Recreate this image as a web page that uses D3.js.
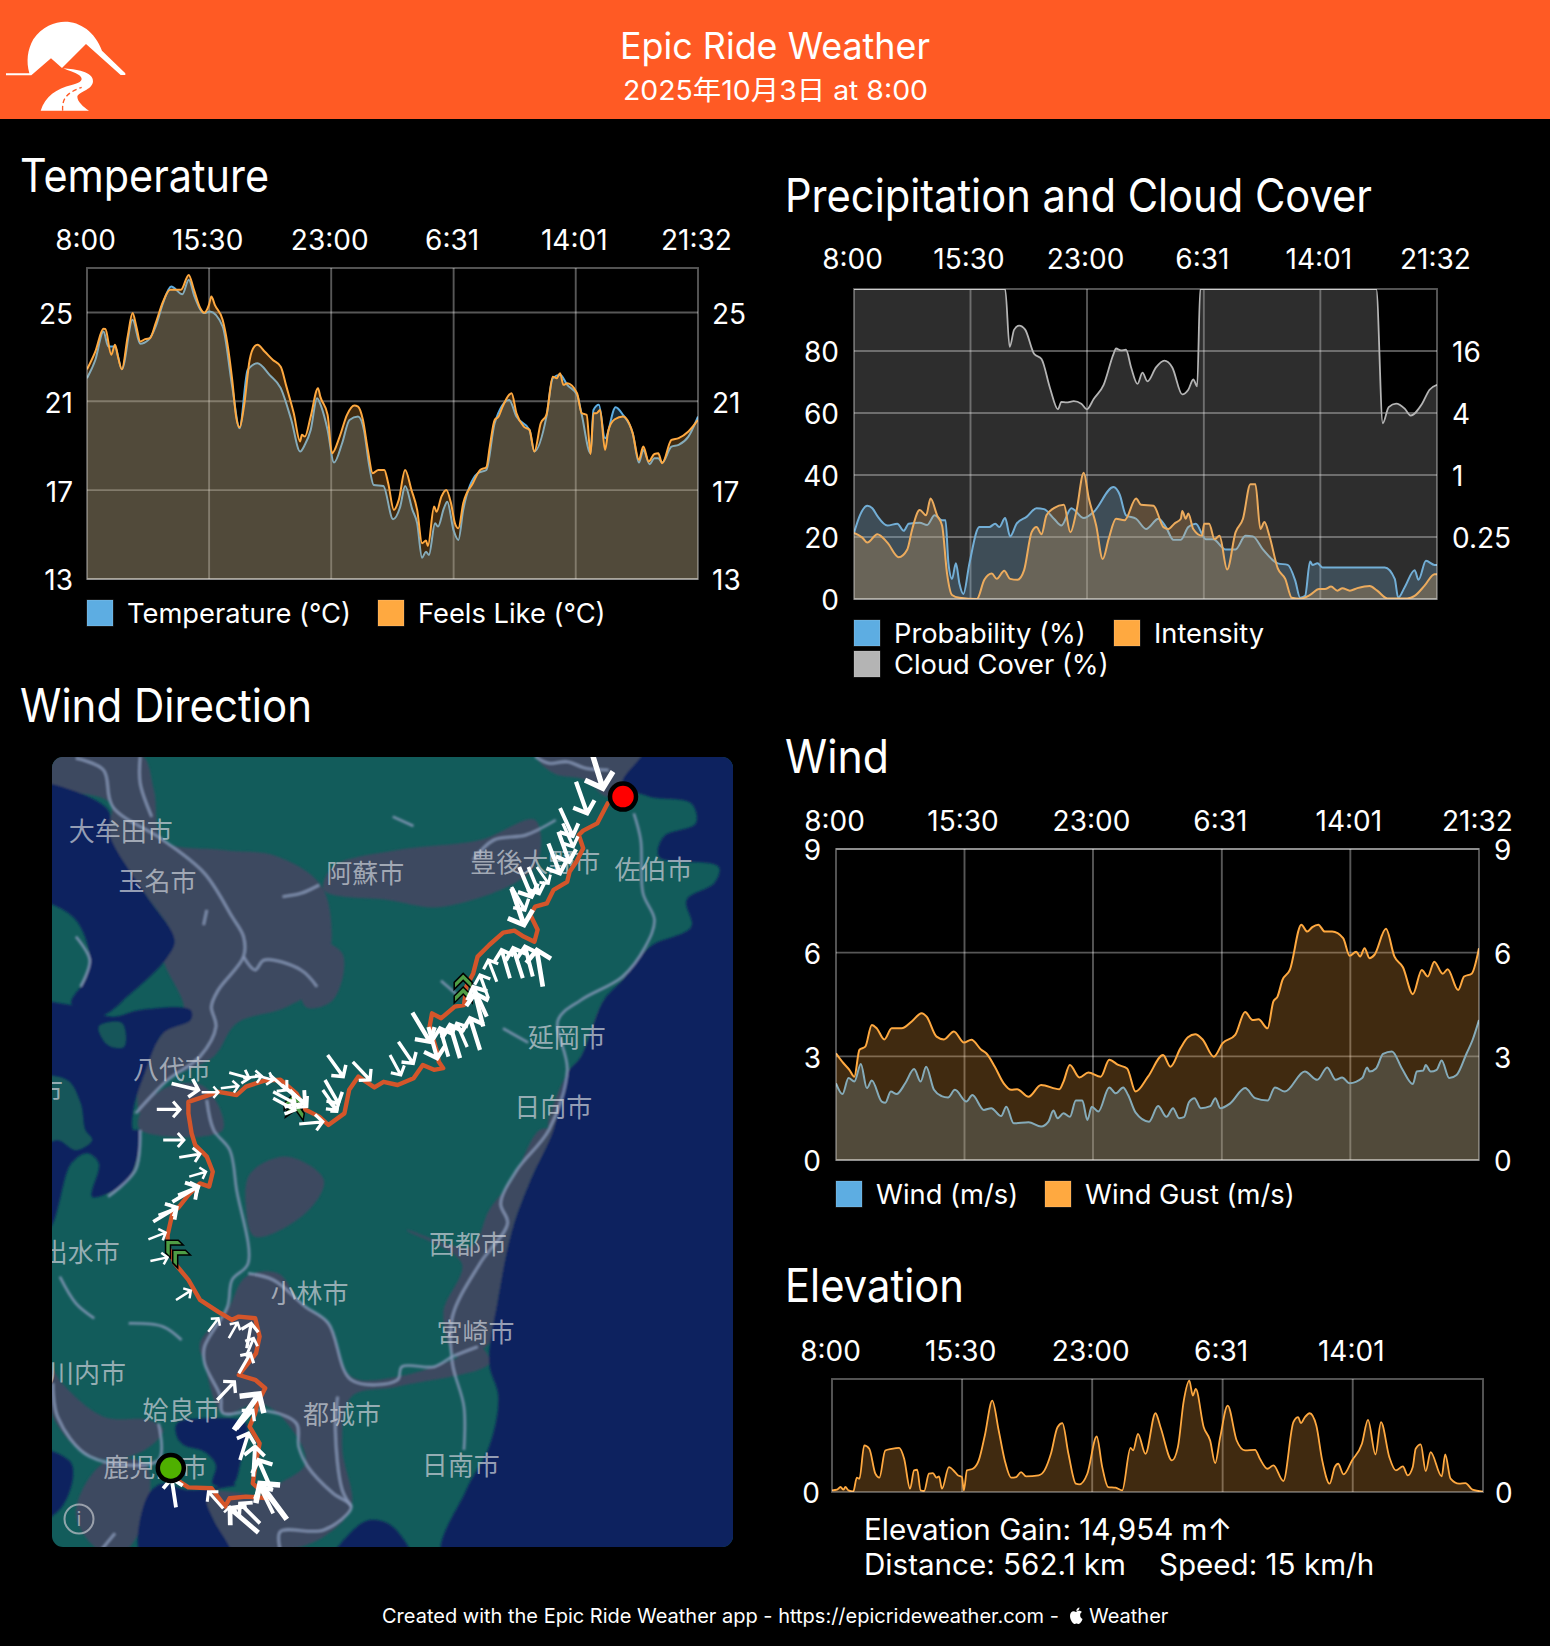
<!DOCTYPE html>
<html><head><meta charset="utf-8"><title>Epic Ride Weather</title>
<script src="https://cdn.jsdelivr.net/npm/d3@7/dist/d3.min.js"></script>
<style>
html,body{margin:0;padding:0;background:#000}
svg{display:block}
text{font-family:Inter,"Noto Sans CJK JP",sans-serif;fill:#fff}
.grid{stroke:#fff;stroke-opacity:.34;stroke-width:1.9;fill:none}
.axis path{display:none}.axis line{display:none}
.axis text{font-size:28px}
.legend{font-size:27.3px}
.place{font-family:"Noto Sans CJK JP",sans-serif;font-size:26px;fill:#c9ced6;fill-opacity:.72;text-anchor:middle;dominant-baseline:central}
</style></head><body><svg id="page" width="1550" height="1646"></svg>
<script>
// Shared time axis: hours since the 8:00 departure
const tickHours=[0,7.5,15,22.52,30.02,37.53];
const tickLabels=["8:00","15:30","23:00","6:31","14:01","21:32"];

// Temperature (°C)
const tempHours=[0,.51,1.01,1.31,1.72,2.14,2.8,3.27,3.78,4.22,4.67,5.17,5.86,6.25,6.6,7.2,7.55,8.33,8.92,9.37,9.87,10.47,11.21,11.9,12.55,13.09,13.38,13.74,14.13,14.39,14.78,15.17,15.67,16.12,16.65,17.01,17.31,17.61,18.2,18.8,19.24,19.54,19.99,20.28,20.58,20.82,21,21.38,21.56,21.92,22.13,22.51,22.81,23.11,24,24.53,25.04,25.93,26.38,27.18,27.48,28.22,28.61,29.06,29.5,30.1,30.39,30.93,31.11,31.44,31.82,32.47,32.92,33.52,33.9,34.17,34.56,34.85,35.09,35.33,35.9,36.34,36.94,37.53];
const tempValues=[22.04,22.86,24.14,23.47,23.47,22.44,24.67,23.59,23.77,24.37,25.42,26.17,25.82,26.47,25.72,24.97,25.04,24.37,21.66,19.79,22.41,22.71,22.19,21.59,20.16,18.74,19.04,19.71,21.14,20.76,19.71,18.24,19.11,20.16,20.31,19.71,18.21,17.23,17.19,15.69,16.26,17.19,16.11,15.51,13.96,14.23,14.08,15.51,15.36,16.18,16.48,15.21,14.76,16.11,17.76,17.91,20.01,21.06,20.31,19.71,18.74,20.31,22.04,22.19,21.74,21.29,20.39,18.66,20.61,20.84,19.34,20.73,20.39,19.56,18.24,18.81,18.17,18.44,18.44,18.24,18.96,19.04,19.41,20.31];

// Feels-like temperature (°C)
const feelsHours=[0,.51,1.01,1.13,1.49,1.72,1.9,2.14,2.5,2.8,3.03,3.27,3.57,3.87,4.22,4.67,5.11,5.77,6.25,6.54,6.96,7.2,7.49,7.64,7.85,8.33,8.62,8.92,9.16,9.37,9.64,9.99,10.29,10.47,10.91,11.42,11.9,12.25,12.7,13.09,13.2,13.38,13.74,14.19,14.33,14.78,15.05,15.52,15.97,16.42,16.65,16.95,17.25,17.55,17.9,18.26,18.5,18.85,19.15,19.54,19.93,20.28,20.58,20.82,20.94,21.32,21.47,21.77,22.07,22.36,22.6,22.81,23.11,23.7,24.15,24.53,24.74,25.04,25.28,25.49,25.93,26.08,26.38,26.83,27.18,27.48,27.87,28.22,28.61,28.85,29.06,29.26,29.5,30.1,30.39,30.69,30.93,31.11,31.29,31.52,31.82,32.03,32.42,32.92,33.52,33.9,34.17,34.5,34.85,35.09,35.33,35.9,36.34,36.94,37.53];
const feelsValues=[22.44,23.24,24.26,24.25,23.09,23.54,23.02,22.44,23.92,24.97,24.37,23.69,23.8,23.84,24.52,25.49,26.02,26.02,26.69,26.09,25.19,24.99,25.34,25.72,25.34,24.67,23.62,21.96,20.31,19.83,20.76,22.86,23.47,23.54,23.24,22.86,22.56,21.66,20.46,19.19,19.49,19.41,20.31,21.59,21.21,20.39,18.66,19.41,20.39,20.81,20.76,20.16,18.81,17.76,17.91,17.91,17.31,16.11,16.56,17.91,17.01,16.11,14.61,14.73,14.49,16.26,16.03,16.71,17.01,16.41,15.51,15.28,16.41,17.31,17.91,18.03,18.96,20.16,20.31,20.69,21.29,21.36,20.46,19.86,19.71,18.74,20.01,20.39,22.11,22.04,22.26,21.74,21.81,21.36,20.46,20.39,18.63,20.46,20.46,20.61,18.81,19.71,20.19,20.31,19.56,18.36,18.96,18.29,18.63,18.66,18.21,19.26,19.34,19.64,20.16];

// Precipitation probability (%)
const probHours=[0,.38,.86,1.18,1.5,2.15,2.79,3.2,3.52,4.23,4.71,5.19,5.67,5.89,6.08,6.31,6.56,6.79,7.04,7.43,8.07,8.71,9.09,9.35,9.73,10.05,10.47,11.11,11.75,12.23,12.87,13.35,13.99,14.79,15.43,16.71,17.1,17.51,18.16,18.8,19.6,20.08,20.56,21.04,21.52,22,22.64,23.12,23.92,24.56,25.2,25.68,26.32,27.28,27.92,28.4,28.72,29.04,29.36,29.52,29.84,30.16,34.17,34.81,35.03,35.45,36.09,36.34,36.82,37.37,37.53];
const probValues=[21.3,27,30.1,29.3,26.8,23.7,24.3,22,24.3,24.6,23.9,27,25.4,25.4,11.5,6.5,11.5,4.9,1.6,11.5,23.2,23.2,24.3,23.2,26.1,20.2,24.3,26.5,29.3,29,25.9,23.7,29.3,26.1,28.1,36.1,33.7,27,25.9,22.6,25.9,23.2,19.1,19.1,23.2,24.3,19.3,19.3,16,16,20.4,20.2,16,11.5,11,6,.4,1,12.1,11,11.5,10.2,10.2,6.5,.4,3.8,9.3,6.2,12.3,11,11];

// Precipitation intensity, held in axis position units (0.25 sits at 20, 1 at 40, 4 at 60, 16 at 80)
const intensityHours=[0,.54,.86,1.5,2.15,2.88,3.43,3.75,4.23,4.64,4.93,5.35,5.67,5.99,6.31,6.79,7.91,8.39,8.87,9.19,9.67,10.05,10.53,10.95,11.43,11.75,12.07,12.39,12.87,13.51,13.93,14.31,14.79,15.11,15.59,16.01,16.39,16.87,17.42,18.16,18.48,19.28,19.92,20.24,20.62,21.04,21.13,21.36,21.52,21.84,22.41,22.54,22.86,23.21,23.53,24.02,24.56,25.04,25.52,25.84,26.16,26.42,26.74,27.28,27.76,28.18,28.72,29.36,29.94,30.32,30.71,31.12,31.44,31.92,32.4,33.2,33.68,34.33,35.61,36.09,36.73,37.37,37.53];
const intensityValues=[21.3,19.8,18.2,20.9,18.2,13.5,16,22.6,28.7,27,32.4,27,23.7,8.2,1.3,.4,0,6.2,8.2,6.5,9.1,6.5,6.2,9.3,21.5,23.2,20.9,27,29.3,30.4,21.5,28.1,40.7,32.6,23.7,12.9,19.3,25.9,25.4,32.4,30.4,30.1,23.2,22.6,24.3,25.9,28.4,25.9,27.6,22.6,20.4,24.3,24.3,19.3,20.4,9.5,21.5,25.9,37,37,22.6,24.8,20.4,9.9,6.5,.4,.1,1.3,3.2,3.2,4,2.7,3.5,2.7,3.5,4.2,2.7,.2,.2,1,4.3,8,8];
const intensityTicks=new Map([[20,"0.25"],[40,"1"],[60,"4"],[80,"16"]]);

// Cloud cover (%)
const cloudHours=[0,9.73,10.02,10.31,10.63,11.02,11.59,12.07,12.62,13.13,13.35,13.67,14.15,14.63,14.99,15.43,16.07,16.71,16.87,17.19,17.51,17.84,18.25,18.57,18.89,19.44,19.98,20.49,21.13,21.52,21.84,22.09,22.29,33.62,34.04,34.42,34.9,35.45,35.83,36.57,37.05,37.53];
const cloudValues=[100,100,81.3,86.9,88.2,86.9,79.1,77.4,68,61.2,63.6,63.4,63.8,63,61.2,64.5,69.1,79.1,80.8,80.2,80.4,74.7,69.4,73,70.2,74.7,76.9,74.7,66,67.5,70.8,68.6,100,100,56.7,61.9,63,61.4,59.2,63,67.5,69.1];

// Wind and gusts (m/s)
const windHours=[0,.38,.73,1.07,1.45,1.8,2.09,2.67,2.88,3.2,3.54,4.04,4.56,4.94,5.26,5.72,6.16,6.54,6.94,7.61,7.96,8.63,9.06,9.64,9.94,10.37,11.24,11.97,12.4,12.69,12.93,13.28,13.65,14,14.38,14.67,14.93,15.31,15.95,16.33,16.76,17.05,17.49,18.27,18.8,19.29,19.67,20.02,20.31,20.6,20.92,21.29,21.85,22.14,22.43,23.01,23.88,24.46,25.19,25.62,26.2,27.36,28.09,28.67,29.17,29.54,29.98,30.71,31,31.14,31.52,31.93,32.45,33.03,33.67,33.9,34.28,34.42,34.71,35.06,35.35,35.79,36.22,36.81,37.16,37.53];
const windValues=[2.22,1.91,2.37,2.27,2.78,2.08,2.3,1.69,1.66,1.98,1.91,2.22,2.63,2.27,2.7,2.03,1.85,1.81,2.03,1.69,1.88,1.45,1.5,1.27,1.54,1.06,1.09,.97,1.11,1.43,1.21,1.35,1.25,1.72,1.72,1.16,1.54,1.4,2.1,1.93,2.1,1.88,1.37,1.11,1.56,1.25,1.5,1.21,1.24,1.67,1.79,1.5,1.56,1.79,1.5,1.64,2.08,1.79,1.72,2.1,1.98,2.56,2.32,2.68,2.32,2.39,2.22,2.37,2.68,2.56,2.65,3.07,3.14,2.65,2.2,2.56,2.59,2.75,2.56,2.61,2.88,2.37,2.46,3.09,3.48,4.05];
const gustHours=[0,.44,.78,1.07,1.37,1.71,2.09,2.38,2.82,3.25,3.83,4.42,5,5.29,5.87,6.3,6.88,7.47,7.9,8.48,8.77,9.27,9.79,10.23,10.57,11.24,11.97,13.04,13.28,13.65,14.21,14.73,15.45,15.95,16.47,16.99,17.49,18.21,19.09,19.52,20.1,20.54,20.97,21.41,22.05,22.57,23.3,23.88,24.31,24.66,25.19,25.53,25.77,26.06,26.49,27.16,27.51,27.8,28.15,28.53,28.96,29.6,29.98,30.36,30.59,30.85,31.14,31.43,32.1,32.59,33.09,33.67,34.19,34.54,34.92,35.41,35.7,36.31,36.66,37.1,37.53];
const gustValues=[3.09,2.8,2.61,2.41,3.19,3.28,3.91,3.81,3.49,3.81,3.81,4.01,4.25,4.15,3.57,3.49,3.72,3.4,3.48,3.19,3.09,2.7,2.22,2.03,2.05,1.83,2.17,2.05,2.27,2.75,2.39,2.53,2.41,2.9,2.75,2.65,1.98,2.41,3.04,2.7,3.23,3.55,3.64,3.48,2.99,3.38,3.62,4.28,4.05,4.07,3.81,4.59,4.73,5.21,5.5,6.81,6.61,6.74,6.81,6.61,6.61,6.42,5.91,6.03,5.89,6.13,5.84,5.94,6.69,5.89,5.58,4.8,5.5,5.31,5.74,5.39,5.52,4.92,5.31,5.39,6.13];

// Elevation along the route (m)
const elevHours=[0,.29,.49,.66,.77,.95,1.23,1.43,1.58,1.86,2.15,2.5,2.73,3.07,3.44,3.87,4.16,4.5,4.73,4.91,5.11,5.31,5.59,5.82,6.02,6.17,6.34,6.74,7.09,7.26,7.49,7.6,7.78,8.12,8.46,8.81,9.24,9.61,9.96,10.33,10.62,10.9,11.19,11.91,12.25,12.62,13,13.28,13.63,14.06,14.26,14.72,15.26,15.58,15.92,16.35,16.73,17.21,17.36,17.64,18.07,18.65,18.94,19.6,19.94,20.28,20.6,20.8,20.97,21.43,21.8,22.09,22.38,22.81,23.33,23.81,24.39,24.67,25.1,25.45,26.02,26.6,26.88,27.03,27.26,27.54,27.92,28.26,28.69,28.98,29.18,29.49,29.98,30.55,30.9,31.33,31.65,32.13,32.51,32.91,33.19,33.48,33.65,33.94,34.23,34.51,35.15,35.35,35.66,36.15,36.52,36.92,37.53];
const elevValues=[25,35,75,35,75,25,10,215,200,700,650,275,215,625,650,665,500,50,325,335,25,15,275,285,215,235,50,375,300,250,225,25,325,350,475,850,1375,925,475,215,225,300,235,250,325,575,975,1035,575,125,115,275,835,375,75,65,25,665,625,875,575,1185,975,475,675,1375,1675,1450,1550,975,775,435,825,1300,775,625,635,500,350,400,165,1050,1125,1035,1125,1185,1000,475,125,375,425,265,475,725,1085,565,1050,525,325,385,250,375,650,715,315,600,235,565,200,125,135,35,5];

// Ride route, in km east and north of the map's lower-left corner
const routeKm=[[138.9,185.9],[137.4,183],[136.3,180.9],[132.8,179.1],[131.7,178],[132.8,174.7],[131.1,171.3],[129.4,168.8],[128.8,166.3],[125.4,164.3],[123.7,160.9],[120.8,160.1],[119.6,158],[121.4,154.3],[120.6,151.3],[117.9,152.6],[115.6,154.1],[112.8,153.6],[109.3,150.5],[106.4,147.6],[105.3,143.4],[103.6,140.1],[103,135.5],[100.7,135.1],[97.3,132.2],[95,133.4],[94.4,130.1],[96.1,124.3],[96.7,121.3],[97.8,119.7],[95.5,119.3],[92.7,120.5],[90.4,117.2],[86.4,115.5],[82.9,116.3],[80.6,114.9],[76.6,117.6],[74.3,114.3],[73.1,108.4],[69.1,105.5],[66.8,107.6],[63.4,109.3],[61.1,113.4],[57.1,116.8],[53.1,116.6],[48.5,115.1],[46.2,113],[41.6,113.8],[34.1,111.3],[34.1,108.4],[34.9,103.4],[35.8,100.5],[38.7,97.6],[40.2,93.8],[39.3,90.1],[37,90.9],[34.1,88],[31.8,85.1],[30.1,83.4],[28.9,78],[28.9,75.5],[30.7,70.9],[34.1,66.8],[37,61.8],[41.6,58.8],[45,56.8],[46.7,57.6],[50.8,57.2],[51.9,52.6],[51,48.4],[46.7,43],[50.8,41.8],[53.3,39.7],[51.3,35.9],[50.8,33.4],[49.4,30.1],[51.9,25.9],[50.8,20.1],[50.2,15.9],[54.2,12.2],[48.5,12.6],[44.4,12.2],[43.3,10.1],[39.9,14.7],[34.1,14.9],[31.2,16.8]];
const rideEnd=[142.75,187.6];
const rideStart=[29.7,19.75];

// Wind arrows along the route: tail east, tail north, head east, head north (km)
const windArrows=[[134.5,200.1,137.7,189.7],[131,191.3,133.8,183.4],[127,184.7,130.2,177.75],[127.7,180.9,130.3,175.1],[126.6,178.8,129.3,171.3],[124.1,175.9,127,168.4],[121.2,170,124.1,165.9],[119.1,170,121.8,163.4],[116.8,170,119.9,162.6],[114.9,165,118.2,159.25],[114.9,164.7,118,155.5],
[122.7,140.1,121.2,149.25],[120.2,142.6,118.25,150.1],[117.7,142.2,115.3,149.7],[114.5,142.2,112.4,149.25],[111.2,141.3,109.1,146.75],[109.1,137.2,107,143],[108.7,132.6,105.3,140],[107.8,130.1,105.75,138.4],[107,124.25,104.5,132.2],[103.8,125,101.2,130.9],[102,122.2,99.5,130.5],[99.1,122.6,97,129.7],[90.1,133.6,94.5,126.3],[94.1,130,96.3,122.2],[86.6,126.3,90.3,120.9],[84.5,123,87.2,118],
[29.9,115.9,36.6,114.25],[26.2,109.4,32,109.4],[27.8,101.75,33,101.75],[31.8,97.4,37,98.25],[34.3,92.6,38.5,93.8],[37.4,113.7,41.6,113.7],[42.2,114.7,46.6,115.25],[44.3,118.6,49.3,117.2],[47.8,117.2,52.4,117.75],[50.75,118,55.3,116.75],[54.5,118,58.7,114.25],[55.3,113.8,60.75,110.9],[55.3,112.2,60.75,109.25],[57.4,115.5,63.25,110.9],[59.5,114.25,63.7,110.1],[61.8,105.75,67.7,106.3],[68.9,123,72.8,117.6],[68.25,116.75,71.6,110.9],[67.7,114.25,71.2,109.25],[68.8,111.75,71.3,108.8],[75.2,121.3,79.5,116.75],
[30.1,86.3,36.4,90.1],[31.5,88,36.7,90.1],[25.3,81.3,31.2,84.9],[26.6,83,31,84.7],[24.1,76.9,28.4,78.6],[24.6,71.5,28.9,72.4],[31,61.75,34.7,64.1],[39.05,53.8,41.6,57.2],[44.2,52.2,46.4,56.1],[48.7,49.7,49.8,55.9],[48.5,47.6,50.4,52.2],[46.7,43.4,49.6,48.4],[41.3,36.75,45.6,41.3],[45.5,29.25,51.8,38.25],[47,21.75,49.1,28.4],[50.3,17.6,50.75,25.1],[46.2,29.5,50.2,34.2],[54.9,14.25,51.6,21.75],[58.7,6.9,52,15.9],[55.3,8.4,52,15.1],[51.6,3.6,44.5,9.65],[52,5.9,47,10.9],[44.7,5.5,44.5,10.1],[42.8,9.65,39.1,13.8],[31,9.9,29.9,17.15]];

// Route chevrons: east, north (km), bearing in degrees
const routeChevrons=[[102.8,141.4,0],[102.8,138,0],[60.3,111.2,0],[60.9,109,10],[29.8,75.3,-45],[31.6,72.8,-45]];

// Place names on the base map: east, north (km)
const placeNames=[["大牟田市",17.2,179.5],["玉名市",26.4,166.9],["阿蘇市",78.3,169],["豊後大野市",120.8,171.6],["佐伯市",150.4,169.8],["八代市",30,120],["市",-.5,114.4],["延岡市",128.7,128],["日向市",125.3,110.5],["出水市",7.2,74.2],["西都市",104,76.1],["小林市",64.4,64],["宮崎市",105.9,54.1],["川内市",8.75,43.8],["姶良市",32.4,34.7],["都城市",72.5,33.6],["日南市",102.2,20.8],["鹿児島市",25.8,20.3]];

// Base map outlines in sheet units. The south sheet continues the north sheet 1170 units further down.
const S=pts=>pts.map(([x,y])=>[x,y+1170]);
const lowlands=[
 [[40,40],[240,40],[270,150],[290,300],[420,330],[540,350],[640,450],[640,720],[560,800],[450,850],[400,950],[300,1020],[240,1120],[240,1000],[295,870],[335,810],[290,650],[310,590],[250,460],[170,290],[175,190],[40,130]],
 [[640,450],[660,380],[800,330],[980,300],[1100,240],[1100,380],[900,500],[780,480]],
 [[600,600],[680,640],[660,780],[600,800]],
 [[1100,40],[1330,40],[1260,170],[1210,120],[1140,100]],
 [[1300,720],[1350,620],[1330,700],[1250,820],[1200,1000],[1170,1170],[1130,1170],[1170,1000],[1200,950],[1250,780]],
 [[240,1120],[300,1040],[380,1040],[420,1170],[240,1170]],
 S([[470,440],[540,430],[590,520],[650,580],[700,740],[800,740],[920,690],[980,650],[1000,700],[800,770],[700,800],[680,950],[700,1130],[640,1220],[560,1260],[520,1260],[500,1110],[600,1000],[560,880],[500,820],[420,850],[380,700],[370,640],[430,540]]),
 S([[480,130],[560,80],[640,150],[600,250],[490,320],[470,230]]),
 S([[820,300],[960,350],[1000,240],[1050,150],[1110,0],[1140,0],[1090,150],[1050,300],[1020,500],[1000,640],[930,680],[900,550],[940,400]]),
 S([[40,700],[70,760],[160,860],[260,870],[290,900],[250,960],[170,990],[100,950],[50,860],[40,800]]),
 S([[160,1000],[250,1000],[260,1100],[210,1260],[150,1260],[100,1150]]),
 S([[380,1090],[500,1100],[560,1130],[540,1260],[440,1260],[400,1170]])
];
const seas=[
 [[1335,40],[1290,130],[1350,170],[1440,190],[1450,250],[1380,290],[1370,350],[1500,380],[1490,430],[1430,480],[1440,560],[1350,620],[1290,720],[1250,780],[1200,950],[1170,1000],[1140,1170],...S([[1090,150],[1050,300],[1020,500],[1000,700],[1020,800],[1000,950],[950,1080],[900,1290],[1600,1290]]),[1600,0],[1340,0]],
 [[0,130],[40,130],[170,210],[175,290],[250,460],[315,600],[300,650],[220,760],[150,830],[90,790],[120,720],[130,650],[100,540],[40,490],[0,490]],
 [[0,800],[90,795],[180,830],[240,810],[350,810],[350,840],[290,880],[250,1000],[225,1110],[225,1170],...S([[240,0],[215,150],[170,190],[135,200],[150,100],[125,70],[90,100],[40,300],[0,300]])],
 S([[0,960],[90,1000],[70,1130],[0,1180]]),
 S([[320,880],[400,865],[470,880],[458,1000],[442,1062],[398,1062],[405,1005],[380,965],[335,945],[320,920]]),
 S([[245,1290],[255,1100],[290,1060],[340,1080],[395,1075],[440,1060],[448,1065],[395,1085],[385,1115],[400,1170],[440,1290]]),
 S([[660,1290],[700,1205],[740,1170],[790,1190],[830,1290]])
];
const islands=[
 [[0,1020],[80,1020],[110,1090],[120,1170],[135,1200],[100,1230],[60,1200],[0,1230]],
 [[150,860],[200,850],[205,920],[170,915]]
];
const highways=[
 [[100,55],[160,90],[180,200],[290,300],[380,400],[440,530],[465,590],[465,650],[410,750],[395,800],[405,860],[370,950],[300,1020],[230,1120]],
 [[240,50],[240,130],[265,230]],
 [[465,650],[490,690],[510,660],[590,690],[625,740]],
 [[630,435],[590,460],[550,470]],
 [[790,230],[835,258]],
 [[965,360],[1010,300],[1080,285],[1145,240]],
 [[1100,50],[1130,70],[1170,65],[1210,85],[1260,90]],
 [[1315,220],[1330,300],[1335,460],[1360,540],[1340,620],[1290,710],[1200,780],[1150,840],[1170,990],[1130,1170],...S([[1060,120],[1025,220],[1040,280],[980,400],[920,560],[920,700],[945,830],[945,960]])],
 [[895,722],[935,770]],
 [[1030,865],[1085,908]],
 [[100,590],[130,660],[110,740]],
 [[385,510],[378,555]],
 [[385,1080],[400,1170],...S([[435,60],[450,180],[475,400],[440,450],[430,530],[380,650],[380,700],[415,800],[420,850],[500,840],[580,880],[585,950],[605,1010],[660,1090],[700,1130],[640,1200],[545,1205],[545,1260]])],
 S([[240,0],[230,120],[170,200]]),
 S([[475,430],[530,450],[600,530],[650,580],[700,750],[800,750],[810,710],[880,710],[920,680],[975,650]]),
 S([[65,440],[100,520],[140,565]]),
 S([[215,580],[290,590],[330,630]]),
 S([[50,760],[60,860],[130,980],[280,990],[280,880]]),
 S([[670,800],[665,900],[680,1080],[700,1130]]),
 S([[185,1210],[155,1260]])
];

const BLUE="#5dade2",ORANGE="#ffa940",GREY="#b4b4b4";
const svg=d3.select("#page");

// Header band with logo and title
svg.append("rect").attr("width",1550).attr("height",119).attr("fill","#ff5a24");
const logo=svg.append("g").attr("transform","scale(.3333)");
logo.append("path").attr("fill","#fff").attr("d","M18,220 L88,220 C78,185 82,150 100,118 C125,80 165,65 195,65 C240,65 285,95 306,152 L376,220 L376,225 L362,225 L258,132 L186,204 L153,175 L94,226 L18,226 Z");
logo.append("path").attr("fill","#fff").attr("d","M122,332 C135,290 170,265 215,255 C245,248 252,238 238,226 C226,218 205,212 190,205 C225,208 282,215 279,245 C276,270 235,275 232,290 C232,305 250,320 267,332 Z");
logo.append("path").attr("fill","none").attr("stroke","#ff5a24").attr("stroke-width",4).attr("stroke-dasharray","14 9").attr("d","M188,332 C186,300 195,280 245,262");

function fitted(sel,width){return sel.attr("textLength",width).attr("lengthAdjust","spacingAndGlyphs");}
fitted(svg.append("text").attr("x",620).attr("y",59).attr("font-size",37).text("Epic Ride Weather"),310);
fitted(svg.append("text").attr("x",623).attr("y",100).attr("font-size",27).text("2025年10月3日 at 8:00"),305);

// Section headings
[["Temperature",20,192,249],["Wind Direction",20,722,292],["Precipitation and Cloud Cover",785,212,587],["Wind",785,773,104],["Elevation",785,1302,179]].forEach(([t,x,y,w])=>{
  fitted(svg.append("text").attr("x",x).attr("y",y).attr("font-size",46).text(t),w);
});

// One time-series panel: grid, filled series, axes and legend
function panel(cfg){
  const {x0,x1,y0,y1,domain,ticks}=cfg;
  const x=d3.scaleLinear().domain([0,37.53]).range([x0,x1]);
  const y=d3.scaleLinear().domain(domain).range([y1,y0]);
  const id="clip"+x0+"-"+y0;
  svg.append("clipPath").attr("id",id).append("rect").attr("x",x0).attr("y",y0).attr("width",x1-x0).attr("height",y1-y0);
  const g=svg.append("g");
  g.selectAll(null).data(tickHours.slice(1,-1)).join("line").attr("class","grid")
    .attr("x1",x).attr("x2",x).attr("y1",y0).attr("y2",y1);
  if(!cfg.noHGrid) g.selectAll(null).data(ticks).join("line").attr("class","grid")
    .attr("y1",y).attr("y2",y).attr("x1",x0).attr("x2",x1);
  const plot=g.append("g").attr("clip-path",`url(#${id})`);
  cfg.series.forEach(s=>{
    const rows=s.hours.map((h,i)=>[h,s.values[i]]);
    const area=d3.area().x(d=>x(d[0])).y0(y1).y1(d=>y(d[1])).curve(d3.curveMonotoneX);
    const line=d3.line().x(d=>x(d[0])).y(d=>y(d[1])).curve(d3.curveMonotoneX);
    plot.append("path").datum(rows).attr("d",area).attr("fill",s.color).attr("fill-opacity",.25);
    plot.append("path").datum(rows).attr("d",line).attr("fill","none").attr("stroke",s.color).attr("stroke-width",s.width||2).attr("stroke-linejoin","round");
  });
  g.append("rect").attr("class","grid").attr("x",x0).attr("y",y0).attr("width",x1-x0).attr("height",y1-y0);

  const labelOf=new Map(tickHours.map((h,i)=>[h,tickLabels[i]]));
  svg.append("g").attr("class","axis").attr("transform",`translate(-2,${cfg.topY+10})`)
    .call(d3.axisTop(x).tickValues(cfg.topHours||tickHours).tickSize(0).tickPadding(0).tickFormat(h=>labelOf.get(h)));
  svg.append("g").attr("class","axis").attr("transform",`translate(${cfg.leftX},2)`)
    .call(d3.axisLeft(y).tickValues(ticks).tickSize(0).tickPadding(0).tickFormat(d=>d));
  svg.append("g").attr("class","axis").attr("transform",`translate(${cfg.rightX},2)`)
    .call(d3.axisRight(y).tickValues(ticks).tickSize(0).tickPadding(0).tickFormat(cfg.rightFormat||(d=>d)));
  (cfg.legend||[]).forEach(l=>{
    svg.append("rect").attr("x",l.x).attr("y",l.y).attr("width",26).attr("height",26).attr("fill",l.color).attr("stroke","#fff").attr("stroke-opacity",.18).attr("stroke-width",1);
    svg.append("text").attr("class","legend").attr("x",l.x+40).attr("y",l.y+23).text(l.label);
  });
}

panel({x0:87,x1:698,y0:268,y1:579,domain:[13,27],ticks:[13,17,21,25],topY:240,leftX:73,rightX:712,
  series:[{hours:tempHours,values:tempValues,color:BLUE},{hours:feelsHours,values:feelsValues,color:ORANGE}],
  legend:[{x:87,y:600,color:BLUE,label:"Temperature (°C)"},{x:378,y:600,color:ORANGE,label:"Feels Like (°C)"}]});

panel({x0:854,x1:1437,y0:289,y1:599,domain:[0,100],ticks:[0,20,40,60,80],topY:259,leftX:839,rightX:1452,
  rightFormat:d=>intensityTicks.get(d)||"",
  series:[{hours:probHours,values:probValues,color:BLUE},{hours:intensityHours,values:intensityValues,color:ORANGE},{hours:cloudHours,values:cloudValues,color:GREY,width:1.8}],
  legend:[{x:854,y:620,color:BLUE,label:"Probability (%)"},{x:1114,y:620,color:ORANGE,label:"Intensity"},{x:854,y:651,color:GREY,label:"Cloud Cover (%)"}]});

panel({x0:836,x1:1479,y0:849,y1:1160,domain:[0,9],ticks:[0,3,6,9],topY:821,leftX:821,rightX:1494,
  series:[{hours:windHours,values:windValues,color:BLUE},{hours:gustHours,values:gustValues,color:ORANGE}],
  legend:[{x:836,y:1181,color:BLUE,label:"Wind (m/s)"},{x:1045,y:1181,color:ORANGE,label:"Wind Gust (m/s)"}]});

panel({x0:832,x1:1483,y0:1379,y1:1492,domain:[0,1700],ticks:[0],topY:1351,leftX:820,rightX:1495,noHGrid:true,
  topHours:tickHours.slice(0,5),
  series:[{hours:elevHours,values:elevValues,color:ORANGE,width:1.8}]});

// Ride summary and footer
svg.append("text").attr("x",864).attr("y",1540).attr("font-size",29.6).text("Elevation Gain: 14,954 m↑");
svg.append("text").attr("x",864).attr("y",1575).attr("font-size",29.6).text("Distance: 562.1 km");
svg.append("text").attr("x",1159).attr("y",1575).attr("font-size",29.6).text("Speed: 15 km/h");
svg.append("text").attr("x",382).attr("y",1623).attr("font-size",20).text("Created with the Epic Ride Weather app - https://epicrideweather.com -");
svg.append("path").attr("fill","#fff").attr("transform","translate(1076,1609)")
  .attr("d","M0,3 C-3,1 -6,3 -6,7 C-6,11 -3,15 -1.5,15 C-0.5,15 -0.5,14.5 0.5,14.5 C1.5,14.5 1.5,15 2.5,15 C4,15 6,12 6.5,10 C3.5,8.5 3.5,4 6,3 C4,1 1.5,1.5 0,3 Z M0.3,2 C0.3,0 2,-1.5 3.5,-1.5 C3.5,0.5 2,2 0.3,2 Z");
svg.append("text").attr("x",1089).attr("y",1623).attr("font-size",20).text("Weather");

// Route map
const mapLeft=52,mapRight=733,mapTop=757,mapBottom=1547;
const eastScale=d3.scaleLinear().domain([0,170.25]).range([mapLeft,mapRight]);
const northScale=d3.scaleLinear().domain([0,197.5]).range([mapBottom,mapTop]);
const sheetX=d3.scaleLinear().domain([0,1568]).range([30,750]);
const sheetY=d3.scaleLinear().domain([0,1200]).range([740,1140]);
svg.append("clipPath").attr("id","mapClip").append("rect").attr("x",mapLeft).attr("y",mapTop).attr("width",mapRight-mapLeft).attr("height",mapBottom-mapTop).attr("rx",11);
const defs=svg.append("defs");
defs.append("filter").attr("id","soften").attr("x","-5%").attr("y","-5%").attr("width","110%").attr("height","110%")
  .append("feGaussianBlur").attr("stdDeviation",1.2);
const map=svg.append("g").attr("clip-path","url(#mapClip)");
map.append("rect").attr("x",mapLeft).attr("y",mapTop).attr("width",mapRight-mapLeft).attr("height",mapBottom-mapTop).attr("fill","#125c5b");
const base=map.append("g").attr("filter","url(#soften)");
const sheetOutline=d3.line().x(d=>sheetX(d[0])).y(d=>sheetY(d[1])).curve(d3.curveCatmullRomClosed.alpha(.5));
const sheetLine=d3.line().x(d=>sheetX(d[0])).y(d=>sheetY(d[1])).curve(d3.curveCatmullRom);
base.selectAll(null).data(lowlands).join("path").attr("d",sheetOutline).attr("fill","#3e4a60");
base.selectAll(null).data(seas).join("path").attr("d",sheetOutline).attr("fill","#0c245e");
base.selectAll(null).data(islands).join("path").attr("d",sheetOutline).attr("fill","#15565a");
base.selectAll(null).data(highways).join("path").attr("d",sheetLine).attr("fill","none").attr("stroke","#8a9abb").attr("stroke-opacity",.85).attr("stroke-width",2.6);
map.selectAll(null).data(placeNames).join("text").attr("class","place")
  .attr("x",d=>eastScale(d[1])).attr("y",d=>northScale(d[2])).text(d=>d[0]);

const kmLine=d3.line().x(d=>eastScale(d[0])).y(d=>northScale(d[1]));
map.append("path").attr("d",kmLine(routeKm)).attr("fill","none").attr("stroke","#d4552a").attr("stroke-width",4.4).attr("stroke-linejoin","round").attr("stroke-linecap","round");

map.selectAll(null).data(routeChevrons).join("path")
  .attr("transform",d=>`translate(${eastScale(d[0])},${northScale(d[1])}) rotate(${d[2]})`)
  .attr("d","M-9,1 L0,-8 L9,1 L9,8 L0,-1 L-9,8 Z").attr("fill","#4f9e45").attr("stroke","#000").attr("stroke-width",1.5).attr("stroke-linejoin","miter");

// Each arrow is a shaft plus an open head; longer arrows mean stronger wind and get a heavier stroke
const arrowWeight=d3.scaleLinear().domain([15,45]).range([2.2,5.6]);
map.selectAll(null).data(windArrows).join("path").attr("fill","none").attr("stroke","#fff")
  .attr("stroke-width",d=>{const dx=eastScale(d[2])-eastScale(d[0]),dy=northScale(d[3])-northScale(d[1]);return arrowWeight(Math.hypot(dx,dy));})
  .attr("d",d=>{
    const tx=eastScale(d[0]),ty=northScale(d[1]),hx=eastScale(d[2]),hy=northScale(d[3]);
    const len=Math.hypot(hx-tx,hy-ty),a=Math.atan2(hy-ty,hx-tx),arm=len*.45,w=Math.PI*.27;
    const p=(ang)=>`${hx-arm*Math.cos(ang)},${hy-arm*Math.sin(ang)}`;
    return `M${tx},${ty}L${hx},${hy}M${p(a-w)}L${hx},${hy}L${p(a+w)}`;
  });

[[rideEnd,"#ff0000"],[rideStart,"#4fb000"]].forEach(([c,col])=>{
  map.append("circle").attr("cx",eastScale(c[0])).attr("cy",northScale(c[1])).attr("r",13).attr("fill",col).attr("stroke","#000").attr("stroke-width",4.5);
});

// Map information badge
const info=svg.append("g").attr("transform","translate(79,1519)");
info.append("circle").attr("r",14.5).attr("fill","none").attr("stroke","#b9bdc4").attr("stroke-opacity",.75).attr("stroke-width",2);
info.append("text").attr("text-anchor","middle").attr("y",7).attr("font-size",20).style("fill","#b9bdc4").attr("fill-opacity",.75).text("i");
</script></body></html>
